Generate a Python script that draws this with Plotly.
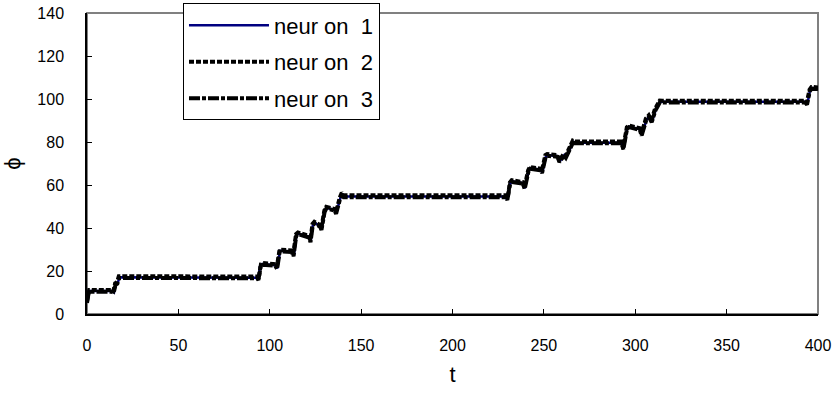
import plotly.graph_objects as go

# time (t) and phase (phi) values
t1 = [0, 1, 13.8, 14.8, 15.8, 16.8, 17.8, 92.8, 93.6, 94.8, 95.8, 103.2, 104.2, 105.6, 112.2, 113.2, 114.6, 115.6,
      121.6, 122.4, 123.6, 124.6, 127.6, 128.4, 130.1, 131.1, 135.6, 136.4, 138.6, 139.6, 140.6, 228.8, 229.8,
      231.6, 232.6, 238.6, 239.6, 241.6, 242.6, 248.2, 249.2, 251.2, 252.2, 257.6, 258.6, 261.2, 262.2, 264.6,
      266.2, 267.2, 292.6, 293.6, 295.6, 296.6, 302.6, 303.6, 306.2, 307.6, 309.2, 311.2, 313.6, 315.2, 393.2,
      394.2, 395.6, 396.6, 400]
phi1 = [5.4, 10.7, 10.7, 10.1, 13.9, 14.4, 17.1, 16.9, 16.1, 22.7, 23.2, 22.7, 21.2, 29.4, 29.1, 27.2, 36.7, 37.4,
        35.9, 33.7, 41.4, 42.4, 40.9, 39.4, 47.7, 49.4, 48.4, 46.9, 53.9, 55.9, 54.7, 54.7, 53.4, 60.7, 61.7, 60.9,
        58.5, 66.4, 67.9, 67.1, 65.9, 73.4, 73.9, 73.4, 70.9, 73.9, 72.9, 77.4, 80.1, 79.7, 79.7, 76.9, 86.4, 87.2,
        85.9, 83.3, 90.4, 91.9, 89.5, 94.9, 98.8, 98.7, 98.7, 97.7, 103.9, 105.1, 104.9]

t2 = [0, 1.2, 13.4, 14.4, 15.4, 16.4, 17.4, 93.2, 94.0, 95.2, 96.2, 102.8, 103.8, 105.4, 111.8, 112.8, 114.4,
      115.4, 121.4, 122.2, 123.4, 124.4, 127.4, 128.2, 129.9, 130.9, 135.4, 136.2, 138.4, 139.4, 140.4, 229.2,
      230.2, 231.4, 232.4, 238.4, 239.4, 241.4, 242.4, 247.8, 248.8, 250.8, 251.8, 257.4, 258.4, 260.8, 261.8,
      264.4, 265.8, 266.8, 292.4, 293.4, 295.4, 296.4, 302.4, 303.4, 305.8, 307.4, 308.8, 310.8, 313.4, 314.8,
      392.8, 393.8, 395.4, 396.4, 400]
phi2 = [6.0, 11.2, 11.2, 10.6, 14.3, 14.8, 17.6, 17.4, 16.6, 23.2, 23.7, 23.2, 21.7, 29.9, 29.6, 27.7, 37.2, 37.9,
        36.4, 34.2, 41.9, 42.9, 41.4, 39.9, 48.2, 49.9, 48.9, 47.4, 54.4, 56.4, 55.2, 55.2, 53.9, 61.2, 62.2, 61.4,
        59.0, 66.9, 68.4, 67.6, 66.4, 73.9, 74.4, 73.9, 71.4, 74.4, 73.4, 77.9, 80.6, 80.2, 80.2, 77.4, 86.9, 87.7,
        86.4, 83.8, 90.9, 92.4, 90.0, 95.4, 99.3, 99.2, 99.2, 98.2, 104.4, 105.6, 105.4]

t3 = [0, 1, 13.6, 14.6, 15.6, 16.6, 17.6, 93.0, 93.8, 95.0, 96.0, 103.0, 104.0, 105.5, 112.0, 113.0, 114.5, 115.5,
      121.5, 122.3, 123.5, 124.5, 127.5, 128.3, 130.0, 131.0, 135.5, 136.3, 138.5, 139.5, 140.5, 229.0, 230.0,
      231.5, 232.5, 238.5, 239.5, 241.5, 242.5, 248.0, 249.0, 251.0, 252.0, 257.5, 258.5, 261.0, 262.0, 264.5,
      266.0, 267.0, 292.5, 293.5, 295.5, 296.5, 302.5, 303.5, 306.0, 307.5, 309.0, 311.0, 313.5, 315.0, 393.0,
      394.0, 395.5, 396.5, 400]
phi3 = [5.2, 10.4, 10.4, 9.8, 13.6, 14.1, 16.8, 16.6, 15.8, 22.4, 22.9, 22.4, 20.9, 29.1, 28.8, 26.9, 36.4, 37.1,
        35.6, 33.4, 41.1, 42.1, 40.6, 39.1, 47.4, 49.1, 48.1, 46.6, 53.6, 55.6, 54.3, 54.3, 53.1, 60.4, 61.4, 60.6,
        58.2, 66.1, 67.6, 66.8, 65.6, 73.1, 73.6, 73.1, 70.6, 73.6, 72.6, 77.1, 79.8, 79.4, 79.4, 76.6, 86.1, 86.9,
        85.6, 83.0, 90.1, 91.6, 89.2, 94.6, 98.5, 98.4, 98.4, 97.4, 103.6, 104.8, 104.6]

names = ["neur on  1", "neur on  2", "neur on  3"]
x_ticks = [0, 50, 100, 150, 200, 250, 300, 350, 400]
y_ticks = [0, 20, 40, 60, 80, 100, 120, 140]

FONT = "Arial, 'Liberation Sans', sans-serif"

fig = go.Figure()
fig.add_trace(go.Scatter(x=t1, y=phi1, mode="lines", name=names[0], legendgroup="a",
                         line=dict(color="#000080", width=2.5)))
fig.add_trace(go.Scatter(x=t2, y=phi2, mode="lines", name=names[1], legendgroup="b",
                         line=dict(color="#000000", width=4, dash="5px,2px")))
fig.add_trace(go.Scatter(x=t3, y=phi3, mode="lines", name=names[2], legendgroup="c",
                         line=dict(color="#000000", width=4, dash="11px,2px,4px,2px")))

fig.update_layout(
    width=834, height=395,
    margin=dict(l=87, r=16, t=13, b=81, autoexpand=False),
    paper_bgcolor="white", plot_bgcolor="white",
    font=dict(family=FONT, size=16, color="black"),
    showlegend=True,
    legend=dict(
        x=0.1313, y=1.032, xanchor="left", yanchor="top",
        bgcolor="white", bordercolor="black", borderwidth=1,
        font=dict(family=FONT, size=22, color="black"),
        traceorder="grouped", tracegroupgap=5, itemwidth=80,
    ),
    xaxis=dict(
        range=[0, 400], tickvals=x_ticks, ticktext=[str(v) for v in x_ticks],
        automargin=False,
        showgrid=False, zeroline=False, showline=True, linecolor="black", linewidth=1.5,
        ticks="inside", ticklen=5, tickcolor="black", tickwidth=1,
        ticklabelstandoff=16,
        tickfont=dict(family=FONT, size=16, color="black"),
        title=dict(text="t", font=dict(family=FONT, size=22, color="black"), standoff=14),
    ),
    yaxis=dict(
        range=[0, 140], tickvals=y_ticks, ticktext=[str(v) for v in y_ticks],
        automargin=False,
        showgrid=False, zeroline=False, showline=True, linecolor="black", linewidth=1.5,
        ticks="inside", ticklen=5, tickcolor="black", tickwidth=1,
        ticklabelstandoff=18,
        tickfont=dict(family=FONT, size=16, color="black"),
        title=dict(text="ϕ", font=dict(family=FONT, size=22, color="black"), standoff=18),
    ),
    shapes=[dict(type="rect", xref="paper", yref="paper", x0=0, x1=1, y0=0, y1=1,
                 line=dict(color="#808080", width=2), layer="below")],
)

fig.write_html("out.html")
